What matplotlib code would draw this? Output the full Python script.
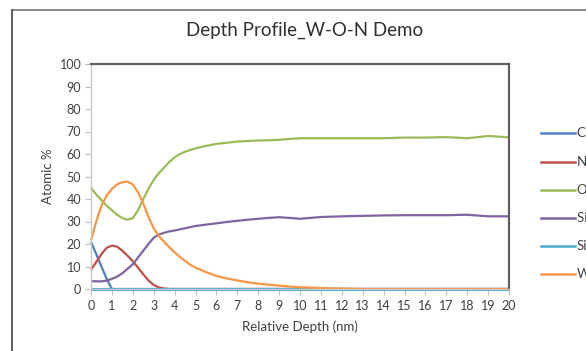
import matplotlib
matplotlib.use("Agg")
import matplotlib.pyplot as plt
from matplotlib.lines import Line2D

plt.rcParams['font.family'] = ['Lato', 'DejaVu Sans']

depth = [0, 0.25, 0.5, 0.75, 1, 1.25, 1.5, 1.75, 2, 2.25, 2.5, 2.75, 3, 3.25, 3.5, 3.75, 4, 4.25, 4.5, 4.75, 5,
         5.5, 6, 6.5, 7, 7.5, 8, 8.5, 9, 9.5, 10,
         11, 12, 13, 14, 15, 16, 17, 18, 19, 20]
c_vals = [21, 15.5, 10, 4.5, 0] + [0] * 36
n_vals = [8.5, 12, 15.5, 18.3, 19.3, 18.8, 17, 14.8, 12.3, 9.5, 6.5, 3.8, 1.8, 0.7, 0.2, 0, 0] + [0] * 24
o_vals = [45, 42, 39.5, 37, 35, 33, 31.5, 30.8, 31.5, 35, 40, 44.5, 48.5, 51.5, 54, 56.5, 58.5, 60, 61, 61.8, 62.5,
          63.6, 64.5, 65, 65.5, 65.8, 66, 66.1, 66.3, 66.7, 67,
          67, 67, 67, 67, 67.3, 67.3, 67.5, 67, 68, 67.4]
si_vals = [3.5, 3.4, 3.4, 3.7, 4.5, 5.5, 7, 9, 11, 14, 17, 20, 22.8, 24.2, 25, 25.6, 26, 26.5, 27, 27.5, 28,
           28.6, 29.2, 29.8, 30.3, 30.8, 31.2, 31.6, 31.9, 31.6, 31.2,
           32, 32.3, 32.5, 32.7, 32.8, 32.8, 32.8, 33, 32.3, 32.3]
s_vals = [0] * 41
w_vals = [21.5, 30, 37, 41.5, 44.5, 46.5, 47.5, 47.7, 46.5, 43, 38, 32, 27, 23.5, 21, 18.5, 16.3, 14.3, 12.5, 10.8, 9.5,
          7.5, 5.8, 4.7, 3.8, 3, 2.4, 1.9, 1.5, 1.1, 0.8,
          0.4, 0.2, 0, 0, 0, 0, 0, 0, 0, 0]

series_labels = ["C 1s", "N 1s", "O 1s", "Si 2p", "Si", "W 4f"]
series_colors = ["#4F81BD", "#C0504D", "#9BBB59", "#8064A2", "#4BACC6", "#F79646"]
x_ticks = list(range(0, 21))
y_ticks = list(range(0, 101, 10))

fig = plt.figure(figsize=(5.86, 3.51), dpi=100)
ax = fig.add_axes([91/586, 1-289/351, (509-91)/586, (289-64)/351])

all_series = [c_vals, n_vals, o_vals, si_vals, s_vals, w_vals]
widths = [1.6, 1.6, 1.6, 1.6, 2.2, 1.6]
for vals, col, lw, lab in zip(all_series, series_colors, widths, series_labels):
    ax.plot(depth, vals, color=col, lw=lw, label=lab, clip_on=False,
            solid_capstyle='butt', solid_joinstyle='round')

ax.set_xlim(0, 20)
ax.set_ylim(0, 100)
ax.set_xticks(x_ticks)
ax.set_yticks(y_ticks)
ax.tick_params(axis='both', labelsize=9, colors='#BFBFBF', labelcolor='#404040', length=4, width=0.8)
ax.tick_params(axis='x', pad=4)
ax.tick_params(axis='y', pad=3)
for s in ['left', 'bottom']:
    ax.spines[s].set_color('#C8C8C8')
    ax.spines[s].set_linewidth(1.0)
for s in ['top', 'right']:
    ax.spines[s].set_color('#606060')
    ax.spines[s].set_linewidth(1.6)

ax.set_xlabel("Relative Depth (nm)", fontsize=9.5, color='#404040', labelpad=6)
ax.set_ylabel("Atomic %", fontsize=9.5, color='#404040', labelpad=4)
fig.text(305/586, 1-30/351, "Depth Profile_W-O-N Demo", fontsize=13.5, color='#303030',
         ha='center', va='center')

# legend (manual, clipped at right edge like the reference)
leg_y = [133, 161.5, 190, 218, 246, 274]
for lab, col, yy in zip(series_labels, series_colors, leg_y):
    fig.add_artist(Line2D([541/586, 575/586], [1-yy/351, 1-yy/351], color=col, lw=1.8,
                          transform=fig.transFigure))
    fig.text(577/586, 1-yy/351, lab, fontsize=9.5, color='#404040', ha='left', va='center')

# chart-area border (top and left visible)
fig.add_artist(Line2D([12/586, 1.0], [1-10/351, 1-10/351], color='#808080', lw=1.3,
                      transform=fig.transFigure))
fig.add_artist(Line2D([12/586, 12/586], [0, 1-10/351], color='#505050', lw=1.3,
                      transform=fig.transFigure))

fig.savefig("out.png", dpi=100)
